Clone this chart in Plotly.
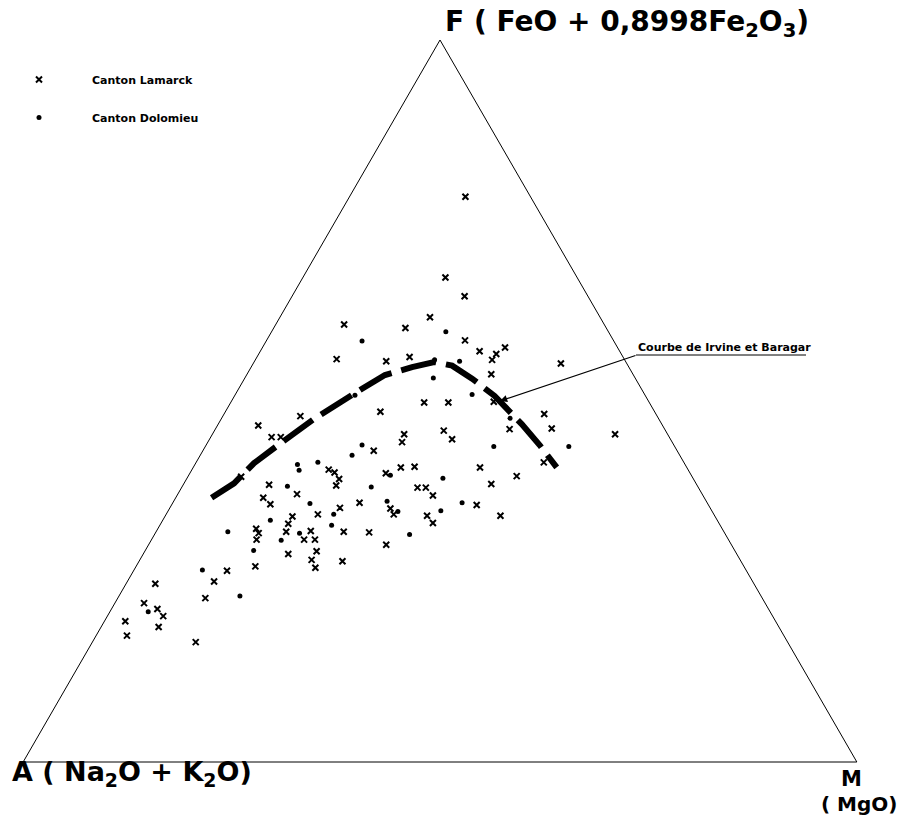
import plotly.graph_objects as go

# ---------------- data (percent; A = 100 - F - M) ----------------
# Canton Lamarck (x)
lam_F = [78.3, 67.1, 64.5, 61.6, 60.6, 60.1, 58.4, 56.9, 56.5, 55.7, 57.4, 55.5, 56.1, 53.7, 55.2,
         49.8, 49.8, 49.9, 48.5, 48.2, 46.1, 46.2, 45.4, 45.4, 44.3, 45.9, 44.7, 43.1, 41.5, 40.0,
         40.8, 40.9, 40.8, 39.6, 38.5, 55.8, 46.6, 45.0, 45.0, 47.9, 40.5, 40.1, 39.2, 38.3, 39.5,
         38.4, 37.1, 36.6, 35.7, 35.9, 35.1, 34.3, 34.3, 35.2, 34.0, 33.0, 32.3, 31.7, 30.8, 31.9,
         30.8, 32.0, 30.8, 31.9, 31.8, 30.1, 28.8, 29.2, 28.0, 26.9, 27.8, 27.1, 26.5, 38.0, 38.0,
         36.9, 34.1, 33.1, 35.6, 34.1, 25.0, 22.7, 24.7, 22.0, 21.2, 20.2, 19.5, 17.5, 18.7, 16.6]
lam_M = [13.9, 17.1, 20.7, 18.0, 8.2, 15.8, 23.8, 26.3, 28.5, 28.4, 29.1, 15.8, 18.3, 29.3, 36.9,
         23.2, 26.1, 31.5, 18.6, 38.4, 35.3, 40.3, 48.3, 23.0, 23.3, 27.5, 29.1, 20.5, 41.7, 23.5,
         24.9, 26.5, 34.4, 39.4, 36.9, 9.7, 4.9, 7.3, 8.4, 9.3, 16.4, 17.3, 18.3, 18.4, 6.4,
         10.3, 14.3, 10.5, 11.8, 22.4, 26.5, 27.3, 18.2, 20.4, 15.3, 15.3, 11.8, 12.4, 12.6, 15.6,
         18.3, 18.5, 19.6, 22.5, 25.6, 28.5, 17.4, 20.6, 20.6, 21.6, 24.4, 14.3, 11.2, 28.3, 29.3,
         30.7, 31.4, 32.6, 36.6, 40.2, 10.4, 10.5, 3.5, 3.5, 5.5, 6.7, 2.5, 3.7, 6.9, 12.4]

# Canton Dolomieu (.)
dol_F = [59.6, 58.3, 55.7, 55.5, 53.2, 50.9, 47.6, 43.9, 43.7, 43.7, 39.7, 39.3, 50.8, 42.5, 41.5,
         41.2, 40.4, 38.2, 38.1, 35.8, 36.1, 34.7, 34.3, 33.5, 32.8, 31.9, 31.7, 30.7, 29.3, 34.8,
         35.9, 31.5, 26.6, 23.0, 20.8]
dol_M = [20.9, 11.5, 21.5, 24.6, 22.6, 28.4, 34.6, 18.7, 34.6, 43.6, 24.2, 30.7, 14.4, 18.2, 14.6,
         12.3, 12.9, 12.6, 22.7, 16.5, 25.6, 27.6, 20.1, 12.9, 20.6, 8.6, 17.3, 15.6, 13.0, 32.7,
         34.7, 30.6, 8.2, 14.5, 4.6]

# Courbe de Irvine et Baragar
curve_F = [36.6, 38.6, 41.4, 44.0, 47.6, 51.7, 53.6, 54.7, 55.4, 54.9, 53.1, 50.7, 48.6, 46.8, 43.9, 40.8]
curve_M = [4.3, 6.0, 7.0, 8.7, 11.2, 14.8, 16.6, 19.3, 21.6, 24.0, 27.3, 31.2, 34.0, 36.4, 40.0, 43.6]

legend_names = ["Canton Lamarck", "Canton Dolomieu"]
curve_label = "Courbe de Irvine et Baragar"


def rest(F, M):
    return [round(100 - f - m, 2) for f, m in zip(F, M)]


W, H = 898, 827
FONT = "DejaVu Sans"

fig = go.Figure()

fig.add_trace(go.Scatterternary(
    a=curve_F, b=rest(curve_F, curve_M), c=curve_M, mode="lines",
    line=dict(color="black", width=6, dash="36px,10px"),
    showlegend=False, hoverinfo="skip"))

fig.add_trace(go.Scatterternary(
    a=lam_F, b=rest(lam_F, lam_M), c=lam_M, mode="markers", name="<b>%s</b>" % legend_names[0],
    legendgroup="g1",
    marker=dict(symbol="x-thin", size=6, color="black", line=dict(color="black", width=2))))

fig.add_trace(go.Scatterternary(
    a=dol_F, b=rest(dol_F, dol_M), c=dol_M, mode="markers", name="<b>%s</b>" % legend_names[1],
    legendgroup="g2",
    marker=dict(symbol="circle", size=5, color="black")))

axis_style = dict(showline=True, linecolor="black", linewidth=1, showgrid=False,
                  showticklabels=False, ticks="", title=dict(text=""))

fig.update_layout(
    width=W, height=H,
    margin=dict(l=0, r=0, t=0, b=0, autoexpand=False),
    paper_bgcolor="white",
    font=dict(family=FONT, color="black"),
    ternary=dict(
        sum=100, bgcolor="white",
        domain=dict(x=[23 / W, 857 / W], y=[1 - 762 / H, 1 - 40 / H]),
        aaxis=axis_style, baxis=axis_style, caxis=axis_style),
    showlegend=True,
    legend=dict(x=-14 / W, y=1 - 65 / H, xanchor="left", yanchor="top",
                bgcolor="rgba(0,0,0,0)", borderwidth=0,
                font=dict(family=FONT, size=11, color="black"),
                traceorder="grouped", tracegroupgap=19, itemwidth=96),
)

def pa(x, y, text, size, xanchor="left", bold=True):
    fig.add_annotation(xref="paper", yref="paper", x=x / W, y=1 - y / H,
                       text=("<b>%s</b>" % text) if bold else text, showarrow=False,
                       xanchor=xanchor, yanchor="middle",
                       font=dict(family=FONT, size=size, color="black"))

pa(443, 23, "F ( FeO + 0,8998Fe<sub>2</sub>O<sub>3</sub>)", 28)
pa(10, 773, "A ( Na<sub>2</sub>O + K<sub>2</sub>O)", 27)
pa(851, 779, "M", 21, xanchor="center")
pa(859, 804, "( MgO)", 20, xanchor="center")
pa(636, 347, curve_label, 11)

fig.add_shape(type="line", xref="paper", yref="paper",
              x0=636 / W, x1=806 / W, y0=1 - 355 / H, y1=1 - 355 / H,
              line=dict(color="black", width=1))
# arrow from the label's underline to the curve
fig.add_annotation(xref="paper", yref="paper", axref="pixel", ayref="pixel",
                   x=500 / W, y=1 - 401 / H, ax=137, ay=-46,
                   text="", showarrow=True, arrowhead=2, arrowsize=1.2,
                   arrowwidth=1.2, arrowcolor="black")

fig.write_html("out.html")
